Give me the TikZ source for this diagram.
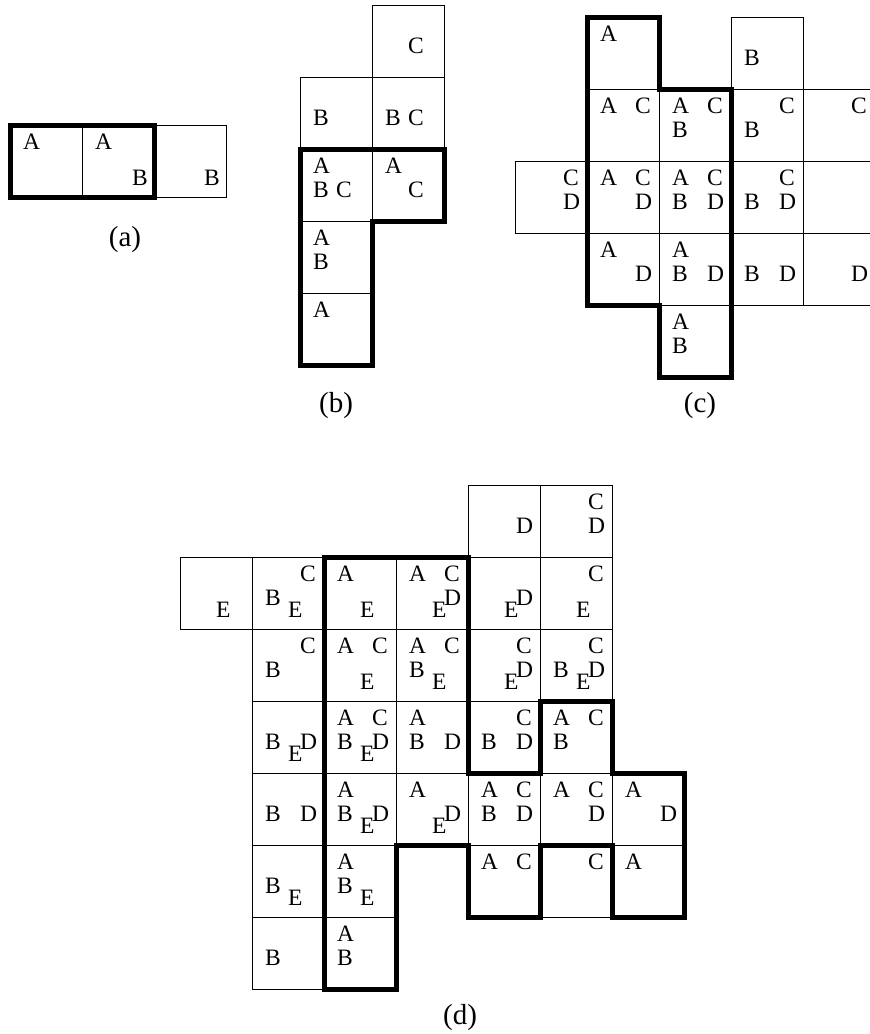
\documentclass[tikz,border=0pt]{standalone}
\usepackage{fontspec}
\setmainfont{Liberation Serif}

\begin{document}
\begin{tikzpicture}[x=1bp, y=-1bp,
  cell/.style={draw, line width=0.8bp},
  outline/.style={line width=5bp},
  lab/.style={anchor=base west, inner sep=0pt, font=\fontsize{23.5bp}{26bp}\selectfont},
  panelcap/.style={anchor=base, inner sep=0pt, font=\fontsize{29bp}{32bp}\selectfont}]

\useasboundingbox (0,0) rectangle (870,1034);

% ── (a) ──
\begin{scope}[shift={(10,125)}, x=72bp, y=-72bp,
  pA/.style={xshift=13bp, yshift=-24bp},
  pB/.style={xshift=50bp, yshift=-60bp}]
\foreach \c in {0,1,2}
  \draw[cell] (\c,0) rectangle ++(1,1);
\foreach \c/\r/\s in {0/0/A, 1/0/A, 1/0/B, 2/0/B}
  \node[lab, p\s] (a-\c-\r-\s) at (\c,\r) {\s};
\draw[outline] (0,0) rectangle (2,1);
\end{scope}
\node[panelcap] (capa) at (125,246) {(a)};

% ── (b) ──
\begin{scope}[shift={(300,5)}, x=72bp, y=-72bp,
  pA/.style={xshift=13bp, yshift=-24bp},
  pB/.style={xshift=13bp, yshift=-48bp},
  pC/.style={xshift=36bp, yshift=-48bp}]
\foreach \c/\r in {1/0, 0/1, 1/1, 0/2, 1/2, 0/3, 0/4}
  \draw[cell] (\c,\r) rectangle ++(1,1);
\foreach \c/\r/\s in {1/0/C, 0/1/B, 1/1/B, 1/1/C, 0/2/A, 0/2/B, 0/2/C,
                      1/2/A, 1/2/C, 0/3/A, 0/3/B, 0/4/A}
  \node[lab, p\s] (b-\c-\r-\s) at (\c,\r) {\s};
\draw[outline] (0,2) -- (2,2) -- (2,3) -- (1,3) -- (1,5) -- (0,5) -- cycle;
\end{scope}
\node[panelcap] (capb) at (336,412) {(b)};

% ── (c) ──
\begin{scope}[shift={(515,17)}, x=72bp, y=-72bp,
  pA/.style={xshift=13bp, yshift=-24bp},
  pC/.style={xshift=48bp, yshift=-24bp},
  pB/.style={xshift=13bp, yshift=-48bp},
  pD/.style={xshift=48bp, yshift=-48bp}]
\foreach \c/\r in {1/0, 3/0, 1/1, 2/1, 3/1, 4/1, 0/2, 1/2, 2/2, 3/2, 4/2,
                   1/3, 2/3, 3/3, 4/3, 2/4}
  \draw[cell] (\c,\r) rectangle ++(1,1);
\foreach \c/\r/\s in {1/0/A, 3/0/B,
                      1/1/A, 1/1/C, 2/1/A, 2/1/C, 2/1/B, 3/1/C, 3/1/B, 4/1/C,
                      0/2/C, 0/2/D, 1/2/A, 1/2/C, 1/2/D, 2/2/A, 2/2/C, 2/2/B, 2/2/D,
                      3/2/C, 3/2/B, 3/2/D,
                      1/3/A, 1/3/D, 2/3/A, 2/3/B, 2/3/D, 3/3/B, 3/3/D, 4/3/D,
                      2/4/A, 2/4/B}
  \node[lab, p\s] (c-\c-\r-\s) at (\c,\r) {\s};
\draw[outline] (1,0) -- (2,0) -- (2,1) -- (3,1) -- (3,5) -- (2,5) -- (2,4) -- (1,4) -- cycle;
\end{scope}
\node[panelcap] (capc) at (700,412) {(c)};

% ── (d) ──
\begin{scope}[shift={(180,485)}, x=72bp, y=-72bp,
  pA/.style={xshift=13bp, yshift=-24bp},
  pC/.style={xshift=48bp, yshift=-24bp},
  pB/.style={xshift=13bp, yshift=-48bp},
  pD/.style={xshift=48bp, yshift=-48bp},
  pE/.style={xshift=36bp, yshift=-60bp}]
\foreach \c/\r in {4/0, 5/0,
                   0/1, 1/1, 2/1, 3/1, 4/1, 5/1,
                   1/2, 2/2, 3/2, 4/2, 5/2,
                   1/3, 2/3, 3/3, 4/3, 5/3,
                   1/4, 2/4, 3/4, 4/4, 5/4, 6/4,
                   1/5, 2/5, 4/5, 5/5, 6/5,
                   1/6, 2/6}
  \draw[cell] (\c,\r) rectangle ++(1,1);
% row by row
\foreach \c/\r/\s in {4/0/D, 5/0/C, 5/0/D,
                      0/1/E, 1/1/C, 1/1/B, 1/1/E, 2/1/A, 2/1/E,
                      3/1/A, 3/1/C, 3/1/D, 3/1/E, 4/1/D, 4/1/E, 5/1/C, 5/1/E,
                      1/2/C, 1/2/B, 2/2/A, 2/2/C, 2/2/E, 3/2/A, 3/2/C, 3/2/B, 3/2/E,
                      4/2/C, 4/2/D, 4/2/E, 5/2/C, 5/2/B, 5/2/D, 5/2/E,
                      1/3/B, 1/3/D, 1/3/E, 2/3/A, 2/3/C, 2/3/B, 2/3/D, 2/3/E,
                      3/3/A, 3/3/B, 3/3/D, 4/3/C, 4/3/B, 4/3/D, 5/3/A, 5/3/C, 5/3/B,
                      1/4/B, 1/4/D, 2/4/A, 2/4/B, 2/4/D, 2/4/E, 3/4/A, 3/4/D, 3/4/E,
                      4/4/A, 4/4/C, 4/4/B, 4/4/D, 5/4/A, 5/4/C, 5/4/D, 6/4/A, 6/4/D,
                      1/5/B, 1/5/E, 2/5/A, 2/5/B, 2/5/E, 4/5/A, 4/5/C, 5/5/C, 6/5/A,
                      1/6/B, 2/6/A, 2/6/B}
  \node[lab, p\s] (d-\c-\r-\s) at (\c,\r) {\s};
\draw[outline] (2,1) -- (4,1) -- (4,4) -- (5,4) -- (5,3) -- (6,3) -- (6,4) -- (7,4)
  -- (7,6) -- (6,6) -- (6,5) -- (5,5) -- (5,6) -- (4,6) -- (4,5) -- (3,5) -- (3,7)
  -- (2,7) -- cycle;
\end{scope}
\node[panelcap] (capd) at (460,1024) {(d)};

\end{tikzpicture}
\end{document}
